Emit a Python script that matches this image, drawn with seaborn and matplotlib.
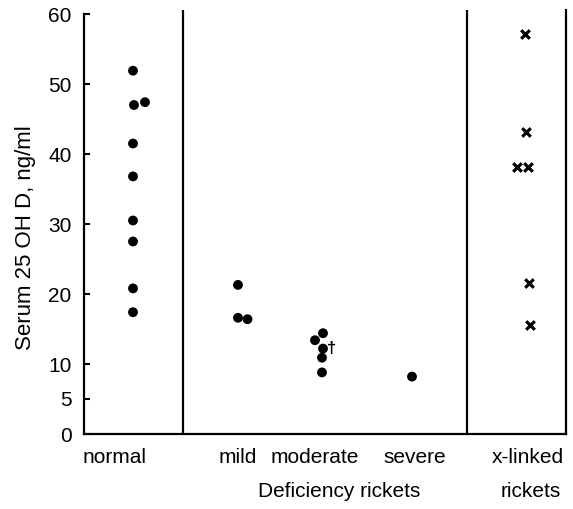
import matplotlib
matplotlib.use("Agg")
import matplotlib.pyplot as plt
import matplotlib.transforms as mtransforms
import pandas as pd
import seaborn as sns

sns.set_theme(style="white")
plt.rcParams['font.family'] = ['Liberation Sans', 'DejaVu Sans']
plt.rcParams['text.color'] = 'black'
plt.rcParams['axes.labelcolor'] = 'black'
plt.rcParams['xtick.color'] = 'black'
plt.rcParams['ytick.color'] = 'black'

# values (ng/ml)
normal = [51.9, 47.0, 47.4, 41.5, 36.8, 30.5, 27.5, 20.8, 17.4]
mild = [21.3, 16.6, 16.4]
moderate = [14.4, 13.4, 12.2, 10.9, 8.8]
severe = [8.2]
xlinked = [57.2, 43.2, 38.2, 38.2, 21.6, 15.6]

group_names = ['normal', 'mild', 'moderate', 'severe', 'x-linked']
y_ticks = [0, 5, 10, 20, 30, 40, 50, 60]

# layout: column centres, small sideways shifts of overlapping points
col_x = {'normal': 0.49, 'mild': 1.54, 'moderate': 2.38, 'severe': 3.28, 'x-linked': 4.42}
shift = {
    'normal': [0, 0.01, 0.12, 0, 0, 0, 0, 0, 0],
    'mild': [0, 0, 0.095],
    'moderate': [0.01, -0.07, 0.01, 0, 0],
    'severe': [0],
    'x-linked': [-0.01, 0, -0.09, 0.02, 0.03, 0.04],
}
label_x = [0.31, 1.535, 2.31, 3.31, 4.44]
dividers = [0.99, 3.83]

rows = []
for name, vals in zip(group_names, [normal, mild, moderate, severe, xlinked]):
    for v, dx in zip(vals, shift[name]):
        rows.append({'group': name, 'x': col_x[name] + dx, 'value': v})
df = pd.DataFrame(rows)

fig = plt.figure(figsize=(5.73, 5.09), dpi=100)
ax = fig.add_axes([84 / 573, 75 / 509, 482 / 573, 424 / 509])

dots = df[df['group'] != 'x-linked']
crosses = df[df['group'] == 'x-linked']
sns.scatterplot(data=dots, x='x', y='value', marker='o', color='black',
                s=50, edgecolor='none', ax=ax, zorder=3)
sns.scatterplot(data=crosses, x='x', y='value', marker='x', color='black',
                s=38, linewidth=2.3, ax=ax, zorder=3)

# dagger marks the fatal moderate case
ax.text(col_x['moderate'] + 0.1, moderate[2], '\u2020', fontsize=12,
        fontweight='bold', ha='center', va='center')

for d in dividers:
    ax.axvline(d, color='black', lw=1.6, zorder=2)

ax.set_xlim(0, 4.82)
ax.set_ylim(0, 60 + 4 / 7)
ax.set_yticks(y_ticks)
ax.set_xticks(label_x)
ax.set_xticklabels(group_names, fontsize=15)
ax.tick_params(axis='x', length=0, pad=10)
ax.tick_params(axis='y', direction='in', length=4, width=1.5, pad=9,
               labelsize=15, left=True)
ax.set_xlabel('')
ax.set_ylabel('Serum 25 OH D, ng/ml', fontsize=16)
ax.yaxis.set_label_coords(-0.10, 0.463)

for side in ['left', 'bottom', 'right']:
    ax.spines[side].set_visible(True)
    ax.spines[side].set_color('black')
    ax.spines[side].set_linewidth(1.6)
ax.spines['top'].set_visible(False)
ax.spines['left'].set_bounds(0, 60)
ax.grid(False)

trans = mtransforms.blended_transform_factory(ax.transData, ax.transAxes)
ax.text(2.55, -0.135, 'Deficiency rickets', transform=trans, fontsize=15,
        ha='center', va='center')
ax.text(4.47, -0.135, 'rickets', transform=trans, fontsize=15,
        ha='center', va='center')

fig.savefig('out.png', dpi=100)
